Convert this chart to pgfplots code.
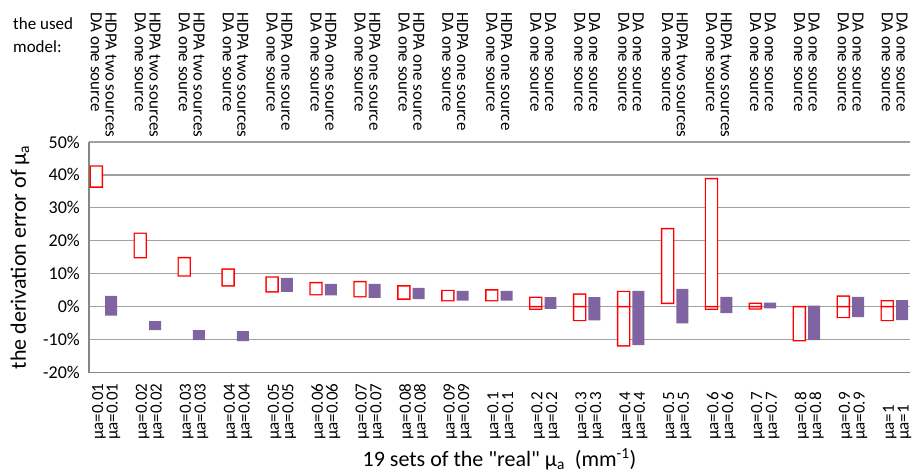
\documentclass[border=0pt]{standalone}
\usepackage{pgfplots}
\pgfplotsset{compat=1.18}
\usepackage{pgfplotstable}
\usepackage{fontspec}
\setmainfont{Carlito}[Ligatures=TeXOff]
\definecolor{boxred}{RGB}{255,0,0}
\definecolor{barpurple}{RGB}{128,100,162}
\definecolor{gridgray}{RGB}{160,160,160}
\definecolor{axisgray}{RGB}{134,134,134}
\newcommand\catfont{\fontsize{17}{14.7}\selectfont\lineskiplimit=-100pt\lineskip=0pt}
\newcommand\HT{HDPA two sources\\DA one source}
\newcommand\HO{HDPA one source\\DA one source}
\newcommand\DD{DA one source\\DA one source}

% red (empty) boxes: lower and upper end, in %
\pgfplotstableread{
x lo hi
0 36.3 42.7
1 14.9 22.3
2 9.3 14.9
3 6.3 11.4
4 4.5 9.0
5 3.6 7.3
6 3.0 7.6
7 2.3 6.3
8 1.8 4.9
9 1.8 5.1
10 -0.8 2.8
11 -4.2 3.8
12 -11.9 4.6
13 1.0 23.7
14 -0.8 38.9
15 -0.7 1.0
16 -10.3 0.0
17 -3.3 3.2
18 -4.2 1.8
}\redtab
% purple (filled) bars: lower and upper end, in %
\pgfplotstableread{
x lo hi
0 -2.7 3.3
1 -7.1 -4.4
2 -10.2 -7.1
3 -10.5 -7.4
4 4.5 8.7
5 3.4 6.9
6 2.7 6.9
7 2.3 5.7
8 1.8 4.8
9 1.8 4.8
10 -0.7 2.9
11 -4.2 2.9
12 -11.7 4.8
13 -5.1 5.4
14 -2.0 3.0
15 -0.5 1.2
16 -10.2 0.3
17 -3.2 3.0
18 -4.1 2.0
}\purtab

% half the red outline width (0.7pt) in % units: 0.7pt / (230.5pt/70)
\def\hw{0.2126}
\pgfplotsset{common/.style={
  scale only axis, width=821pt, height=230.5pt,
  at={(0pt,0pt)}, anchor=south west,
  xmin=-0.335, xmax=18.35, ymin=-20, ymax=50,
  clip=false,
},
bars/.style={common, hide axis, ybar stacked, stack negative=on previous},
}

\begin{document}
\begin{tikzpicture}
\useasboundingbox (-89pt,-99.5pt) rectangle (823pt,372.5pt);
\begin{axis}[
  common,
  xtick=\empty,
  ytick={-20,-10,0,10,20,30,40,50},
  yticklabel={\pgfmathprintnumber{\tick}\%},
  yticklabel style={font=\fontsize{18}{18}\selectfont, /pgf/number format/assume math mode=true, inner sep=0pt, anchor=east, xshift=-9pt},
  ymajorgrids, grid style={gridgray, line width=1.2pt},
  axis x line*=bottom, axis y line*=left,
  axis line style={-, axisgray, line width=1.5pt},
  major tick length=0pt,
]
% top labels: the used model
\tikzset{toplab/.style={rotate=-90, anchor=west, inner sep=0pt, align=left, font=\catfont}}
\node[toplab] at ([yshift=130pt]axis cs:0,50) {\HT};
\node[toplab] at ([yshift=130pt]axis cs:1,50) {\HT};
\node[toplab] at ([yshift=130pt]axis cs:2,50) {\HT};
\node[toplab] at ([yshift=130pt]axis cs:3,50) {\HT};
\node[toplab] at ([yshift=130pt]axis cs:4,50) {\HO};
\node[toplab] at ([yshift=130pt]axis cs:5,50) {\HO};
\node[toplab] at ([yshift=130pt]axis cs:6,50) {\HO};
\node[toplab] at ([yshift=130pt]axis cs:7,50) {\HO};
\node[toplab] at ([yshift=130pt]axis cs:8,50) {\HO};
\node[toplab] at ([yshift=130pt]axis cs:9,50) {\HO};
\node[toplab] at ([yshift=130pt]axis cs:10,50) {\DD};
\node[toplab] at ([yshift=130pt]axis cs:11,50) {\DD};
\node[toplab] at ([yshift=130pt]axis cs:12,50) {\DD};
\node[toplab] at ([yshift=130pt]axis cs:13,50) {\HT};
\node[toplab] at ([yshift=130pt]axis cs:14,50) {\HT};
\node[toplab] at ([yshift=130pt]axis cs:15,50) {\DD};
\node[toplab] at ([yshift=130pt]axis cs:16,50) {\DD};
\node[toplab] at ([yshift=130pt]axis cs:17,50) {\DD};
\node[toplab] at ([yshift=130pt]axis cs:18,50) {\DD};

% bottom category labels
\tikzset{botlab/.style={rotate=90, anchor=west, inner sep=0pt, align=left, font=\catfont}}
\node[botlab] at ([xshift=2.5pt,yshift=-67.5pt]axis cs:0,-20) {μa=0.01\\μa=0.01};
\node[botlab] at ([xshift=2.5pt,yshift=-67.5pt]axis cs:1,-20) {μa=0.02\\μa=0.02};
\node[botlab] at ([xshift=2.5pt,yshift=-67.5pt]axis cs:2,-20) {μa=0.03\\μa=0.03};
\node[botlab] at ([xshift=2.5pt,yshift=-67.5pt]axis cs:3,-20) {μa=0.04\\μa=0.04};
\node[botlab] at ([xshift=2.5pt,yshift=-67.5pt]axis cs:4,-20) {μa=0.05\\μa=0.05};
\node[botlab] at ([xshift=2.5pt,yshift=-67.5pt]axis cs:5,-20) {μa=0.06\\μa=0.06};
\node[botlab] at ([xshift=2.5pt,yshift=-67.5pt]axis cs:6,-20) {μa=0.07\\μa=0.07};
\node[botlab] at ([xshift=2.5pt,yshift=-67.5pt]axis cs:7,-20) {μa=0.08\\μa=0.08};
\node[botlab] at ([xshift=2.5pt,yshift=-67.5pt]axis cs:8,-20) {μa=0.09\\μa=0.09};
\node[botlab] at ([xshift=2.5pt,yshift=-67.5pt]axis cs:9,-20) {μa=0.1\\μa=0.1};
\node[botlab] at ([xshift=2.5pt,yshift=-67.5pt]axis cs:10,-20) {μa=0.2\\μa=0.2};
\node[botlab] at ([xshift=2.5pt,yshift=-67.5pt]axis cs:11,-20) {μa=0.3\\μa=0.3};
\node[botlab] at ([xshift=2.5pt,yshift=-67.5pt]axis cs:12,-20) {μa=0.4\\μa=0.4};
\node[botlab] at ([xshift=2.5pt,yshift=-67.5pt]axis cs:13,-20) {μa=0.5\\μa=0.5};
\node[botlab] at ([xshift=2.5pt,yshift=-67.5pt]axis cs:14,-20) {μa=0.6\\μa=0.6};
\node[botlab] at ([xshift=2.5pt,yshift=-67.5pt]axis cs:15,-20) {μa=0.7\\μa=0.7};
\node[botlab] at ([xshift=2.5pt,yshift=-67.5pt]axis cs:16,-20) {μa=0.8\\μa=0.8};
\node[botlab] at ([xshift=2.5pt,yshift=-67.5pt]axis cs:17,-20) {μa=0.9\\μa=0.9};
\node[botlab] at ([xshift=2.5pt,yshift=-67.5pt]axis cs:18,-20) {μa=1\\μa=1};
\end{axis}

% red boxes: outer red fill ...
\begin{axis}[bars, bar width=0.305]
\addplot[draw=none, fill=none] table[x expr=\thisrow{x}-0.168, y expr=\thisrow{lo}-\hw]{\redtab};
\addplot[draw=none, fill=boxred] table[x expr=\thisrow{x}-0.168, y expr=\thisrow{hi}-(\thisrow{lo})+2*\hw]{\redtab};
\end{axis}
% ... white inside ...
\begin{axis}[bars, bar width=0.241]
\addplot[draw=none, fill=none] table[x expr=\thisrow{x}-0.168, y expr=\thisrow{lo}+\hw]{\redtab};
\addplot[draw=none, fill=white] table[x expr=\thisrow{x}-0.168, y expr=\thisrow{hi}-(\thisrow{lo})-2*\hw]{\redtab};
\end{axis}
% ... and the line at 0 inside boxes that cross zero
\begin{axis}[bars, bar width=0.305]
\addplot[draw=none, fill=none] table[x expr=\thisrow{x}-0.168,
  y expr={ifthenelse(\thisrow{lo}<0 && \thisrow{hi}>0, -\hw, 0)}]{\redtab};
\addplot[draw=none, fill=boxred] table[x expr=\thisrow{x}-0.168,
  y expr={ifthenelse(\thisrow{lo}<0 && \thisrow{hi}>0, 2*\hw, 0)}]{\redtab};
\end{axis}

% purple bars
\begin{axis}[bars, bar width=0.273]
\addplot[draw=none, fill=none] table[x expr=\thisrow{x}+0.168, y=lo]{\purtab};
\addplot[draw=none, fill=barpurple] table[x expr=\thisrow{x}+0.168, y expr=\thisrow{hi}-(\thisrow{lo})]{\purtab};
\end{axis}

% axis titles and the row caption
\node[anchor=north west, inner sep=0pt, align=left, font=\fontsize{17}{23}\selectfont] at (-76pt,355.5pt) {the used\\model:};
\node[rotate=90, anchor=base, inner sep=0pt, font=\fontsize{22}{22}\selectfont] at (-63pt,115.25pt) {the derivation error of μ\textsubscript{a}};
\node[anchor=base, inner sep=0pt, font=\fontsize{22}{22}\selectfont] at (410.5pt,-93.5pt) {19 sets of the "real" μ\textsubscript{a}~ (mm\textsuperscript{-1})};
\end{tikzpicture}
\end{document}
